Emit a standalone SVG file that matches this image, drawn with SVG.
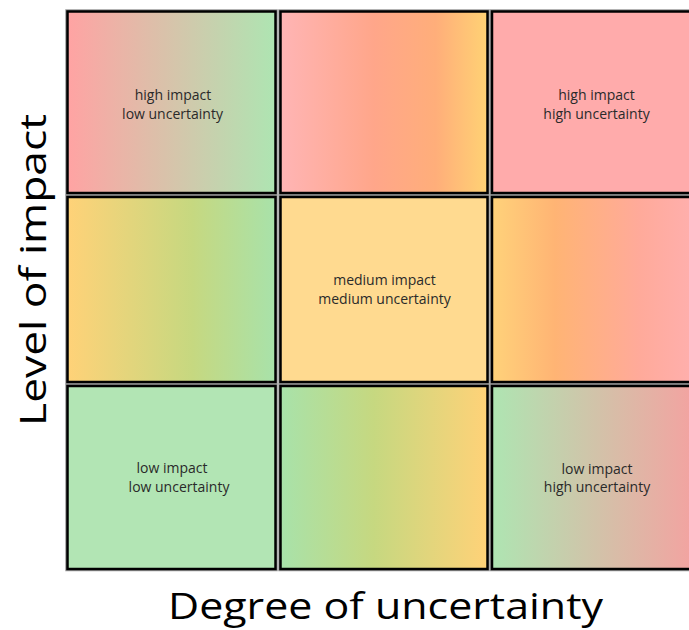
<svg xmlns="http://www.w3.org/2000/svg" width="689" height="630" viewBox="0 0 689 630">
  <style>
    .cell { stroke: #000; stroke-width: 2.5; }
    .halo { fill: none; stroke: #9a9a9a; stroke-width: 4.5; }
    .lbl { font-family: "Open Sans", "Noto Sans", sans-serif; font-size: 14px; fill: #2a2a2a; text-anchor: middle; }
    .axis { font-family: "Open Sans", "Noto Sans", sans-serif; font-size: 37px; fill: #000; text-anchor: middle; }
  </style>
  <defs>
    <linearGradient id="gRedGreen" x1="0" y1="0" x2="1" y2="0">
      <stop offset="0" stop-color="#FFA3A3"/>
      <stop offset="1" stop-color="#AEE5B2"/>
    </linearGradient>
    <linearGradient id="gPinkOrange" x1="0" y1="0" x2="1" y2="0">
      <stop offset="0" stop-color="#FFB5B5"/>
      <stop offset="0.45" stop-color="#FFA68A"/>
      <stop offset="0.75" stop-color="#FFAE7A"/>
      <stop offset="1" stop-color="#FFD274"/>
    </linearGradient>
    <linearGradient id="gYellowGreen" x1="0" y1="0" x2="1" y2="0">
      <stop offset="0" stop-color="#FFD278"/>
      <stop offset="0.6" stop-color="#C6D880"/>
      <stop offset="1" stop-color="#A8E2AA"/>
    </linearGradient>
    <linearGradient id="gOrangePink" x1="0" y1="0" x2="1" y2="0">
      <stop offset="0" stop-color="#FFD27A"/>
      <stop offset="0.3" stop-color="#FFB474"/>
      <stop offset="0.7" stop-color="#FFAA9A"/>
      <stop offset="1" stop-color="#FFB0B0"/>
    </linearGradient>
    <linearGradient id="gGreenYellow" x1="0" y1="0" x2="1" y2="0">
      <stop offset="0" stop-color="#A8E2AA"/>
      <stop offset="0.45" stop-color="#C6D880"/>
      <stop offset="1" stop-color="#FFD278"/>
    </linearGradient>
    <linearGradient id="gGreenRed" x1="0" y1="0" x2="1" y2="0">
      <stop offset="0" stop-color="#AEE5B2"/>
      <stop offset="1" stop-color="#F6A0A0"/>
    </linearGradient>
  </defs>

  <rect width="689" height="630" fill="#fff"/>

  <g id="cell-r1c1">
    <rect class="halo" x="67.5" y="11.5" width="208" height="181.5"/>
    <rect class="cell" x="67.5" y="11.5" width="208" height="181.5" fill="url(#gRedGreen)"/>
    <text class="lbl" x="173" y="100">high impact</text>
    <text class="lbl" x="172.5" y="119">low uncertainty</text>
  </g>
  <g id="cell-r1c2">
    <rect class="halo" x="280.5" y="11.5" width="207" height="181.5"/>
    <rect class="cell" x="280.5" y="11.5" width="207" height="181.5" fill="url(#gPinkOrange)"/>
  </g>
  <g id="cell-r1c3">
    <rect class="halo" x="492" y="11.5" width="210" height="181.5"/>
    <rect class="cell" x="492" y="11.5" width="210" height="181.5" fill="#FFABAB"/>
    <text class="lbl" x="596.5" y="100">high impact</text>
    <text class="lbl" x="596.5" y="119">high uncertainty</text>
  </g>

  <g id="cell-r2c1">
    <rect class="halo" x="67.5" y="197" width="208" height="185"/>
    <rect class="cell" x="67.5" y="197" width="208" height="185" fill="url(#gYellowGreen)"/>
  </g>
  <g id="cell-r2c2">
    <rect class="halo" x="280.5" y="197" width="207" height="185"/>
    <rect class="cell" x="280.5" y="197" width="207" height="185" fill="#FFDA90"/>
    <text class="lbl" x="384.5" y="285">medium impact</text>
    <text class="lbl" x="384.5" y="304">medium uncertainty</text>
  </g>
  <g id="cell-r2c3">
    <rect class="halo" x="492" y="197" width="210" height="185"/>
    <rect class="cell" x="492" y="197" width="210" height="185" fill="url(#gOrangePink)"/>
  </g>

  <g id="cell-r3c1">
    <rect class="halo" x="67.5" y="386" width="208" height="183"/>
    <rect class="cell" x="67.5" y="386" width="208" height="183" fill="#B2E5B4"/>
    <text class="lbl" x="172" y="473">low impact</text>
    <text class="lbl" x="179" y="492">low uncertainty</text>
  </g>
  <g id="cell-r3c2">
    <rect class="halo" x="280.5" y="386" width="207" height="183"/>
    <rect class="cell" x="280.5" y="386" width="207" height="183" fill="url(#gGreenYellow)"/>
  </g>
  <g id="cell-r3c3">
    <rect class="halo" x="492" y="386" width="210" height="183"/>
    <rect class="cell" x="492" y="386" width="210" height="183" fill="url(#gGreenRed)"/>
    <text class="lbl" x="597" y="474">low impact</text>
    <text class="lbl" x="597" y="492">high uncertainty</text>
  </g>

  <g id="connectors"></g>

  <g id="axis-labels">
    <text class="axis" x="385.5" y="619" textLength="435" lengthAdjust="spacingAndGlyphs">Degree of uncertainty</text>
    <text class="axis" transform="translate(46 270) rotate(-90)" x="0" y="0" textLength="312" lengthAdjust="spacingAndGlyphs">Level of impact</text>
  </g>
</svg>
